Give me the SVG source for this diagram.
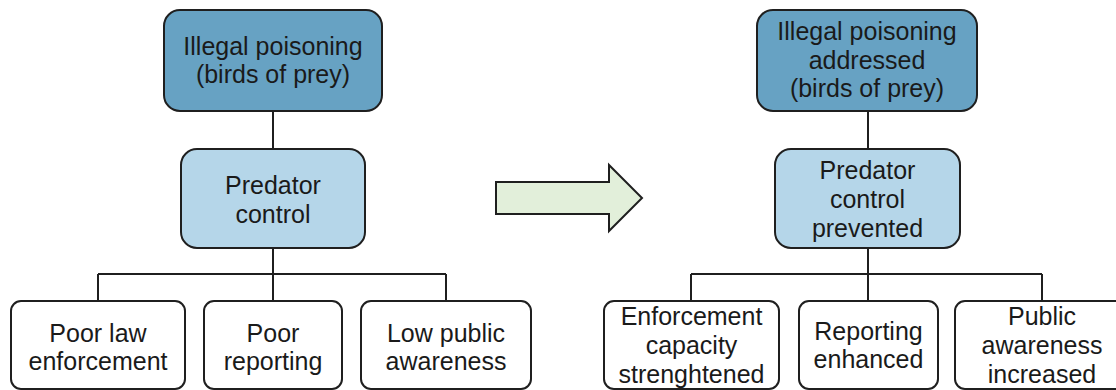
<svg xmlns="http://www.w3.org/2000/svg" width="1116" height="390" viewBox="0 0 1116 390">
<style>
.box{stroke:#1f1f1f;stroke-width:2}
.dark{fill:#67a2c3}
.light{fill:#b5d6e9}
.white{fill:#ffffff}
.t{font-family:"Liberation Sans",Arial,sans-serif;font-size:25px;fill:#1a1a1a;text-anchor:middle}
.c{fill:none;stroke:#1f1f1f;stroke-width:2}
</style>
<rect width="1116" height="390" fill="#ffffff"/>
<g id="connectors">
<path class="c" d="M273,111 V149 M273,248 V274 M98,274 H446 M98,274 V301 M273,274 V301 M446,274 V301"/>
<path class="c" d="M868,111 V149 M868,248 V274 M691,274 H1042 M691,274 V301 M868,274 V301 M1042,274 V301"/>
</g>
<g id="arrow">
<path d="M496,182 H609 V165 L642,198 L609,231 V214 H496 Z" fill="#e2efda" stroke="#1f1f1f" stroke-width="2"/>
</g>
<g id="l-top">
<rect class="box dark" x="164" y="10" width="218" height="101" rx="16"/>
<text class="t" x="273" y="55">Illegal poisoning</text>
<text class="t" x="273" y="83">(birds of prey)</text>
</g>
<g id="l-mid">
<rect class="box light" x="181" y="149" width="184" height="99" rx="16"/>
<text class="t" x="273" y="194">Predator</text>
<text class="t" x="273" y="223">control</text>
</g>
<g id="l-b1">
<rect class="box white" x="11" y="301" width="174" height="88" rx="10"/>
<text class="t" x="98" y="342">Poor law</text>
<text class="t" x="98" y="370">enforcement</text>
</g>
<g id="l-b2">
<rect class="box white" x="204" y="301" width="138" height="88" rx="10"/>
<text class="t" x="273" y="342">Poor</text>
<text class="t" x="273" y="370">reporting</text>
</g>
<g id="l-b3">
<rect class="box white" x="361" y="301" width="170" height="88" rx="10"/>
<text class="t" x="446" y="342">Low public</text>
<text class="t" x="446" y="370">awareness</text>
</g>
<g id="r-top">
<rect class="box dark" x="757" y="10" width="220" height="101" rx="16"/>
<text class="t" x="867" y="40">Illegal poisoning</text>
<text class="t" x="867" y="68.5">addressed</text>
<text class="t" x="867" y="97">(birds of prey)</text>
</g>
<g id="r-mid">
<rect class="box light" x="775" y="149" width="185" height="99" rx="16"/>
<text class="t" x="867.5" y="179">Predator</text>
<text class="t" x="867.5" y="208">control</text>
<text class="t" x="867.5" y="237">prevented</text>
</g>
<g id="r-b1">
<rect class="box white" x="604" y="301" width="175" height="88" rx="10"/>
<text class="t" x="691.5" y="325">Enforcement</text>
<text class="t" x="691.5" y="354">capacity</text>
<text class="t" x="691.5" y="383">strenghtened</text>
</g>
<g id="r-b2">
<rect class="box white" x="799" y="301" width="139" height="88" rx="10"/>
<text class="t" x="868.5" y="340">Reporting</text>
<text class="t" x="868.5" y="368">enhanced</text>
</g>
<g id="r-b3">
<rect class="box white" x="955" y="301" width="175" height="88" rx="10"/>
<text class="t" x="1042" y="325">Public</text>
<text class="t" x="1042" y="354">awareness</text>
<text class="t" x="1042" y="383">increased</text>
</g>
</svg>
